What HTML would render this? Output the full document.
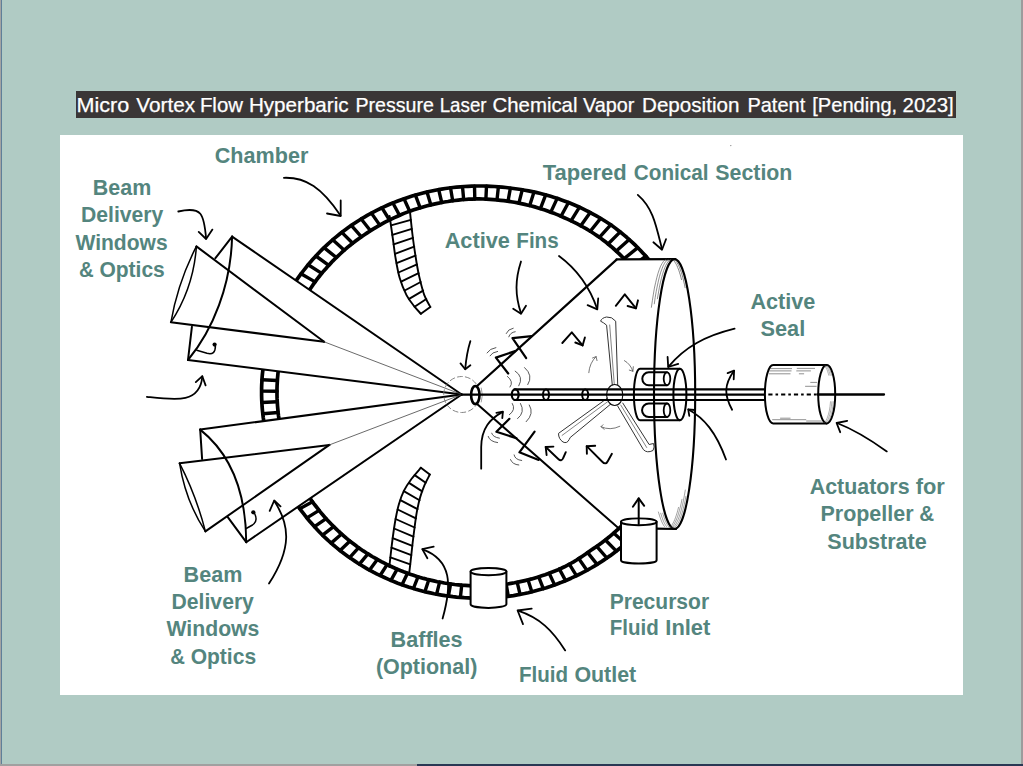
<!DOCTYPE html>
<html><head><meta charset="utf-8"><title>Patent diagram</title>
<style>
html,body{margin:0;padding:0;}
body{width:1023px;height:766px;overflow:hidden;background:#b0cbc4;position:relative;font-family:"Liberation Sans",sans-serif;}
#bl{position:absolute;left:0;top:0;width:1px;height:764px;background:#a3a3a3;}
#bl2{position:absolute;left:1px;top:0;width:1px;height:764px;background:#5f7f99;}
#br{position:absolute;left:1020.5px;top:0;width:2.5px;height:764px;background:#9c9c9c;}
#bb1{position:absolute;left:0;top:763.5px;width:417px;height:2.5px;background:#a0a0a0;}
#bb2{position:absolute;left:417px;top:763.5px;width:606px;height:2.5px;background:#2a3854;}
#title{position:absolute;left:75.5px;top:91px;width:880px;height:27px;background:#3a3636;}
#box{position:absolute;left:59.6px;top:134.8px;width:903.2px;height:560.1px;background:#fff;}
svg{position:absolute;left:0;top:0;}
</style></head><body>
<div id="bl"></div><div id="bl2"></div><div id="br"></div><div id="bb1"></div><div id="bb2"></div>
<div id="title"></div><div id="box"></div>
<svg width="1023" height="766" viewBox="0 0 1023 766" stroke-linecap="round" stroke-linejoin="round">
<g font-family="Liberation Sans, sans-serif" font-size="20.2" fill="#fff" stroke="#fff" stroke-width="0.25"><text x="76.4" y="112.4" textLength="52.8" lengthAdjust="spacingAndGlyphs">Micro</text><text x="136.3" y="112.4" textLength="58.9" lengthAdjust="spacingAndGlyphs">Vortex</text><text x="199.9" y="112.4" textLength="43.1" lengthAdjust="spacingAndGlyphs">Flow</text><text x="248.9" y="112.4" textLength="99.7" lengthAdjust="spacingAndGlyphs">Hyperbaric</text><text x="355.4" y="112.4" textLength="78.5" lengthAdjust="spacingAndGlyphs">Pressure</text><text x="439.7" y="112.4" textLength="46.9" lengthAdjust="spacingAndGlyphs">Laser</text><text x="492.5" y="112.4" textLength="85.0" lengthAdjust="spacingAndGlyphs">Chemical</text><text x="583.0" y="112.4" textLength="51.4" lengthAdjust="spacingAndGlyphs">Vapor</text><text x="642.0" y="112.4" textLength="97.4" lengthAdjust="spacingAndGlyphs">Deposition</text><text x="747.4" y="112.4" textLength="57.8" lengthAdjust="spacingAndGlyphs">Patent</text><text x="812.1999999999999" y="112.4" textLength="85.0" lengthAdjust="spacingAndGlyphs">[Pending,</text><text x="902.6" y="112.4" textLength="51.1" lengthAdjust="spacingAndGlyphs">2023]</text></g>
<clipPath id="rc"><path d="M200,214.5 L461.7,394.5 L461.7,259.0 L720,259.0 L720,100 L200,100 Z M240,366.6 L300,374.1 L300,416.2 L240,424.3 Z M240,546.4 L461.7,394.5 L621,394.5 L621,700 L240,700 Z"/></clipPath>
<g clip-path="url(#rc)"><path d="M261.6,392.1 L261.6,388.5 L261.7,384.9 L261.9,381.3 L262.1,377.7 L262.4,374.1 L262.8,370.6 L263.2,367.0 L263.7,363.4 L264.3,359.9 L264.9,356.3 L265.6,352.8 L266.4,349.2 L267.2,345.7 L268.1,342.2 L269.0,338.8 L270.0,335.3 L271.1,331.8 L272.3,328.4 L273.5,325.0 L274.7,321.6 L276.1,318.2 L277.5,314.9 L278.9,311.6 L280.4,308.3 L282.0,305.0 L283.6,301.8 L285.3,298.5 L287.1,295.3 L288.9,292.2 L290.8,289.1 L292.7,286.0 L294.7,282.9 L296.7,279.8 L298.8,276.9 L301.0,273.9 L303.2,271.0 L305.5,268.1 L307.8,265.2 L310.1,262.4 L312.6,259.6 L315.0,256.9 L317.5,254.2 L320.1,251.5 L322.7,248.9 L325.4,246.4 L328.1,243.8 L330.9,241.4 L333.7,238.9 L336.5,236.6 L339.4,234.2 L342.3,231.9 L345.3,229.7 L348.3,227.5 L351.4,225.4 L354.5,223.3 L357.6,221.2 L360.8,219.2 L364.0,217.3 L367.2,215.4 L370.5,213.6 L373.8,211.8 L377.1,210.1 L380.5,208.5 L383.9,206.9 L387.4,205.3 L390.8,203.8 L394.3,202.4 L397.8,201.0 L401.3,199.7 L404.9,198.4 L408.5,197.2 L412.1,196.1 L415.7,195.0 L419.4,194.0 L423.0,193.0 L426.7,192.1 L430.4,191.3 L434.1,190.5 L437.8,189.8 L441.6,189.1 L445.3,188.5 L449.1,188.0 L452.9,187.5 L456.6,187.1 L460.4,186.8 L464.2,186.5 L468.0,186.3 L471.8,186.1 L475.6,186.0 L479.4,186.0 L483.2,186.0 L487.0,186.1 L490.8,186.3 L494.6,186.5 L498.4,186.8 L502.2,187.1 L505.9,187.5 L509.7,188.0 L513.5,188.5 L517.3,189.0 L521.0,189.5 L524.8,190.2 L528.5,190.9 L532.2,191.6 L535.9,192.4 L539.6,193.3 L543.3,194.2 L547.0,195.3 L550.6,196.3 L554.3,197.4 L557.9,198.6 L561.5,199.9 L565.0,201.2 L568.6,202.5 L572.1,204.0 L575.6,205.5 L579.1,207.0 L582.5,208.6 L585.9,210.3 L589.3,212.0 L592.6,213.8 L595.9,215.6 L599.2,217.5 L602.5,219.5 L605.7,221.5 L608.8,223.5 L612.0,225.6 L615.0,227.9 L618.0,230.2 L620.9,232.5 L623.8,234.9 L626.7,237.3 L629.5,239.8 L632.3,242.3 L635.0,244.9 L637.6,247.5 L640.3,250.2 L642.8,252.9 L645.3,255.6 L647.8,258.4 L650.2,261.2 L652.6,264.0 L655.0,266.9 L657.3,269.8 L659.5,272.8 L661.7,275.8 L663.8,278.8 L665.8,281.9 L667.8,285.0 L669.8,288.1 L671.6,291.3 L673.4,294.5 L675.1,297.7 L676.8,301.0 L678.4,304.3 L680.0,307.6 L681.5,310.9 L682.9,314.3 L684.3,317.7 L685.6,321.1 L686.8,324.5 L688.0,328.0 L689.1,331.4 L690.1,334.9 L691.1,338.4 L692.0,341.9 L692.9,345.5 L693.6,349.0 L694.4,352.6 L695.0,356.1 L695.6,359.7 L696.1,363.3 L696.6,366.9 L697.0,370.5 L697.3,374.1 L697.6,377.7 L697.7,381.3 L697.9,384.9 L697.9,388.5 L697.9,392.1 L697.8,395.7 L697.7,399.3 L697.5,402.9 L697.2,406.5 L696.9,410.1 L696.5,413.7 L696.0,417.3 L695.4,420.8 L694.8,424.4 L694.2,427.9 L693.4,431.5 L692.6,435.0 L691.8,438.5 L690.8,442.0 L689.8,445.5 L688.8,448.9 L687.7,452.4 L686.5,455.8 L685.2,459.2 L683.9,462.5 L682.6,465.9 L681.1,469.2 L679.6,472.5 L678.1,475.8 L676.5,479.1 L674.8,482.3 L673.1,485.5 L671.3,488.6 L669.4,491.8 L667.5,494.9 L665.6,497.9 L663.5,501.0 L661.5,504.0 L659.3,506.9 L657.2,509.9 L654.9,512.8 L652.6,515.6 L650.3,518.4 L647.9,521.2 L645.5,524.0 L643.0,526.7 L640.5,529.4 L637.9,532.0 L635.3,534.6 L632.7,537.1 L630.0,539.7 L627.2,542.1 L624.4,544.5 L621.6,546.9 L618.7,549.2 L615.8,551.5 L612.9,553.7 L609.9,555.9 L606.8,558.0 L603.7,560.1 L600.6,562.2 L597.5,564.1 L594.3,566.1 L591.1,568.0 L587.8,569.8 L584.5,571.6 L581.2,573.3 L577.9,575.0 L574.5,576.6 L571.1,578.2 L567.7,579.7 L564.2,581.2 L560.7,582.6 L557.2,583.9 L553.7,585.2 L550.1,586.5 L546.5,587.7 L542.9,588.8 L539.3,589.8 L535.7,590.8 L532.0,591.8 L528.3,592.7 L524.6,593.5 L520.9,594.2 L517.2,594.9 L513.5,595.6 L509.7,596.2 L505.9,596.7 L502.2,597.1 L498.4,597.4 L494.6,597.7 L490.8,597.9 L487.0,598.1 L483.2,598.2 L479.4,598.2 L475.6,598.2 L471.8,598.1 L468.0,597.9 L464.2,597.7 L460.4,597.4 L456.6,597.1 L452.9,596.7 L449.1,596.2 L445.3,595.7 L441.6,595.1 L437.8,594.4 L434.1,593.7 L430.4,592.9 L426.7,592.1 L423.0,591.2 L419.4,590.2 L415.7,589.2 L412.1,588.1 L408.5,587.0 L404.9,585.8 L401.3,584.5 L397.8,583.2 L394.3,581.8 L390.8,580.4 L387.4,578.9 L383.9,577.3 L380.5,575.7 L377.1,574.1 L373.8,572.4 L370.5,570.6 L367.2,568.8 L364.0,566.9 L360.8,565.0 L357.6,563.0 L354.5,560.9 L351.4,558.8 L348.3,556.7 L345.3,554.5 L342.3,552.3 L339.4,550.0 L336.5,547.6 L333.7,545.3 L330.9,542.8 L328.1,540.4 L325.4,537.8 L322.7,535.3 L320.1,532.7 L317.5,530.0 L315.0,527.3 L312.6,524.6 L310.1,521.8 L307.8,519.0 L305.5,516.1 L303.2,513.2 L301.0,510.3 L298.8,507.3 L296.7,504.4 L294.7,501.3 L292.7,498.2 L290.8,495.1 L288.9,492.0 L287.1,488.9 L285.3,485.7 L283.6,482.4 L282.0,479.2 L280.4,475.9 L278.9,472.6 L277.5,469.3 L276.1,466.0 L274.7,462.6 L273.5,459.2 L272.3,455.8 L271.1,452.4 L270.0,448.9 L269.0,445.4 L268.1,442.0 L267.2,438.5 L266.4,435.0 L265.6,431.4 L264.9,427.9 L264.3,424.3 L263.7,420.8 L263.2,417.2 L262.8,413.6 L262.4,410.1 L262.1,406.5 L261.9,402.9 L261.7,399.3 L261.6,395.7 L261.6,392.1Z" fill="none" stroke="#000" stroke-width="3.7"/><path d="M277.0,392.1 L277.0,388.7 L277.1,385.3 L277.3,382.0 L277.5,378.6 L277.8,375.2 L278.1,371.8 L278.5,368.5 L279.0,365.1 L279.5,361.8 L280.1,358.4 L280.7,355.1 L281.4,351.8 L282.2,348.5 L283.0,345.2 L283.9,341.9 L284.9,338.7 L286.0,335.5 L287.2,332.3 L288.4,329.1 L289.7,326.0 L291.0,322.9 L292.4,319.8 L293.8,316.7 L295.3,313.6 L296.9,310.6 L298.5,307.6 L300.1,304.6 L301.8,301.7 L303.6,298.8 L305.4,295.9 L307.3,293.1 L309.2,290.3 L311.2,287.5 L313.1,284.7 L315.1,281.9 L317.1,279.2 L319.2,276.5 L321.3,273.9 L323.5,271.2 L325.8,268.7 L328.0,266.1 L330.4,263.6 L332.7,261.1 L335.1,258.7 L337.6,256.3 L340.1,254.0 L342.6,251.7 L345.2,249.4 L347.8,247.2 L350.5,245.0 L353.2,242.9 L355.9,240.8 L358.7,238.7 L361.5,236.7 L364.4,234.8 L367.2,232.9 L370.1,231.0 L373.0,229.1 L376.0,227.3 L379.0,225.6 L382.0,223.9 L385.1,222.2 L388.2,220.6 L391.3,219.1 L394.4,217.6 L397.6,216.2 L400.8,214.8 L404.0,213.4 L407.3,212.1 L410.5,210.9 L413.8,209.8 L417.2,208.7 L420.5,207.7 L423.9,206.7 L427.3,205.8 L430.7,204.9 L434.1,204.1 L437.5,203.4 L440.9,202.7 L444.4,202.0 L447.9,201.5 L451.3,200.9 L454.8,200.5 L458.3,200.1 L461.8,199.7 L465.3,199.5 L468.8,199.2 L472.4,199.1 L475.9,198.9 L479.4,198.9 L482.9,199.0 L486.4,199.1 L490.0,199.3 L493.5,199.6 L497.0,199.9 L500.5,200.3 L503.9,200.7 L507.4,201.2 L510.9,201.7 L514.4,202.3 L517.8,202.9 L521.2,203.6 L524.7,204.4 L528.1,205.2 L531.5,206.0 L534.8,206.9 L538.2,207.9 L541.5,209.0 L544.9,210.0 L548.2,211.2 L551.4,212.4 L554.7,213.6 L557.9,214.9 L561.1,216.3 L564.3,217.7 L567.5,219.1 L570.7,220.6 L573.8,222.1 L576.9,223.7 L580.0,225.3 L583.0,227.0 L586.0,228.7 L589.0,230.5 L591.9,232.3 L594.9,234.2 L597.7,236.1 L600.6,238.1 L603.3,240.2 L606.1,242.3 L608.7,244.5 L611.4,246.7 L614.0,249.0 L616.5,251.3 L619.0,253.7 L621.5,256.1 L623.9,258.5 L626.3,261.0 L628.6,263.5 L630.9,266.0 L633.1,268.6 L635.4,271.2 L637.5,273.8 L639.7,276.5 L641.7,279.2 L643.8,281.9 L645.8,284.7 L647.7,287.4 L649.6,290.3 L651.4,293.1 L653.2,296.0 L654.9,298.9 L656.6,301.9 L658.2,304.9 L659.7,307.9 L661.2,310.9 L662.6,314.0 L664.0,317.1 L665.3,320.2 L666.6,323.3 L667.8,326.4 L669.0,329.6 L670.1,332.8 L671.1,336.0 L672.1,339.2 L673.0,342.4 L673.8,345.7 L674.6,348.9 L675.4,352.2 L676.1,355.5 L676.7,358.8 L677.2,362.1 L677.7,365.4 L678.2,368.7 L678.6,372.1 L678.9,375.4 L679.1,378.7 L679.3,382.1 L679.5,385.4 L679.5,388.8 L679.5,392.1 L679.5,395.4 L679.4,398.8 L679.2,402.1 L679.0,405.5 L678.7,408.8 L678.3,412.1 L677.9,415.4 L677.4,418.8 L676.9,422.1 L676.3,425.3 L675.7,428.6 L674.9,431.9 L674.2,435.2 L673.3,438.4 L672.4,441.6 L671.5,444.8 L670.5,448.0 L669.4,451.2 L668.3,454.4 L667.1,457.5 L665.9,460.6 L664.6,463.7 L663.2,466.8 L661.8,469.9 L660.4,472.9 L658.8,475.9 L657.3,478.9 L655.6,481.8 L654.0,484.7 L652.2,487.6 L650.4,490.5 L648.6,493.3 L646.7,496.1 L644.8,498.9 L642.8,501.6 L640.7,504.3 L638.7,507.0 L636.5,509.6 L634.3,512.2 L632.1,514.8 L629.8,517.3 L627.5,519.8 L625.2,522.3 L622.8,524.7 L620.4,527.1 L617.9,529.4 L615.3,531.7 L612.8,533.9 L610.2,536.1 L607.5,538.3 L604.8,540.4 L602.1,542.5 L599.4,544.5 L596.6,546.5 L593.7,548.4 L590.9,550.3 L588.1,552.3 L585.3,554.3 L582.4,556.2 L579.5,558.1 L576.6,560.0 L573.6,561.8 L570.6,563.5 L567.6,565.2 L564.5,566.8 L561.3,568.3 L558.1,569.7 L554.9,571.0 L551.6,572.3 L548.4,573.5 L545.1,574.7 L541.7,575.8 L538.4,576.9 L535.0,577.9 L531.7,578.9 L528.3,579.8 L524.9,580.6 L521.4,581.4 L518.0,582.1 L514.5,582.8 L511.0,583.4 L507.6,584.0 L504.1,584.5 L500.6,584.8 L497.0,585.2 L493.5,585.4 L490.0,585.6 L486.5,585.8 L482.9,585.9 L479.4,585.9 L475.9,585.9 L472.3,585.8 L468.8,585.6 L465.3,585.4 L461.8,585.2 L458.2,584.8 L454.7,584.5 L451.2,584.0 L447.7,583.5 L444.3,583.0 L440.8,582.3 L437.3,581.7 L433.9,580.9 L430.4,580.1 L427.0,579.3 L423.6,578.4 L420.2,577.4 L416.9,576.4 L413.5,575.3 L410.2,574.2 L406.9,573.0 L403.6,571.8 L400.3,570.5 L397.1,569.1 L393.9,567.7 L390.7,566.3 L387.5,564.8 L384.4,563.2 L381.3,561.6 L378.2,559.9 L375.2,558.2 L372.1,556.5 L369.2,554.6 L366.2,552.8 L363.3,550.9 L360.4,548.9 L357.6,546.9 L354.8,544.8 L352.0,542.7 L349.3,540.6 L346.6,538.4 L344.0,536.1 L341.4,533.8 L338.8,531.5 L336.3,529.1 L333.8,526.7 L331.4,524.3 L329.0,521.8 L326.6,519.2 L324.4,516.7 L322.1,514.1 L319.9,511.4 L317.8,508.7 L315.7,506.0 L313.6,503.3 L311.6,500.5 L309.7,497.7 L307.8,494.8 L305.9,491.9 L304.1,489.0 L302.4,486.1 L300.7,483.1 L299.1,480.1 L297.5,477.1 L296.0,474.0 L294.5,470.9 L293.1,467.8 L291.7,464.7 L290.4,461.6 L289.2,458.4 L288.0,455.2 L286.9,452.0 L285.8,448.8 L284.8,445.5 L283.9,442.3 L283.0,439.0 L282.2,435.7 L281.4,432.4 L280.7,429.1 L280.1,425.8 L279.5,422.4 L279.0,419.1 L278.5,415.7 L278.1,412.4 L277.8,409.0 L277.5,405.6 L277.3,402.2 L277.1,398.9 L277.0,395.5 L277.0,392.1Z" fill="none" stroke="#000" stroke-width="3.7"/><path d="M474.8,199.0L474.5,186.1M485.9,199.1L486.5,186.1M497.0,199.9L498.4,186.8M508.0,201.3L510.4,188.1M518.9,203.1L522.3,189.7M529.7,205.6L534.0,192.0M540.4,208.6L545.7,194.9M550.8,212.1L557.2,198.4M561.0,216.3L568.5,202.5M571.0,220.8L579.5,207.2M580.8,225.8L590.2,212.5M590.3,231.3L600.6,218.4M599.4,237.3L610.7,224.8M608.1,244.0L620.2,231.9M616.3,251.1L629.2,239.6M624.1,258.7L637.8,247.7M631.4,266.6L645.9,256.2M638.4,274.8L653.5,265.1M644.9,283.4L660.7,274.4M650.9,292.3L667.2,284.0M656.3,301.5L673.2,294.0M661.2,311.0L678.5,304.3M665.6,320.7L683.1,314.9M669.3,330.7L687.2,325.7M672.5,340.8L690.6,336.6M675.1,351.1L693.4,347.8M677.1,361.5L695.5,359.0M678.5,371.9L697.0,370.3M679.3,382.5L697.8,381.7M679.5,393.0L697.9,393.1M679.1,403.6L697.4,404.5M678.1,414.1L696.2,415.8M676.5,424.5L694.3,427.1M674.2,434.9L691.9,438.2M671.4,445.1L688.7,449.2M668.0,455.1L684.9,459.9M664.1,464.9L680.6,470.5M659.5,474.5L675.6,480.8M654.5,483.9L670.0,490.8M648.9,492.9L663.8,500.6M642.7,501.7L657.1,509.9M636.1,510.1L649.9,518.9M629.1,518.2L642.2,527.6M621.6,525.9L634.0,535.8M613.7,533.1L625.4,543.7M605.4,540.0L616.4,551.1M596.7,546.4L606.9,558.0M587.7,552.6L597.1,564.4M578.7,558.6L586.9,570.3M569.3,564.2L576.4,575.7M559.4,569.1L565.6,580.6M549.2,573.2L554.6,584.9M538.7,576.8L543.3,588.7M528.0,579.8L531.8,591.8M517.2,582.3L520.1,594.4M506.2,584.2L508.3,596.4M495.1,585.3L496.3,597.6M484.0,585.9L484.3,598.1M472.8,585.8L472.3,598.1M461.7,585.2L460.4,597.4M450.6,583.9L448.4,596.1M439.6,582.1L436.6,594.2M428.8,579.7L424.9,591.6M418.0,576.8L413.4,588.5M407.5,573.3L402.0,584.8M397.2,569.2L390.9,580.4M387.1,564.6L380.1,575.5M377.3,559.5L369.6,570.1M367.9,553.8L359.4,564.1M358.7,547.7L349.6,557.6M350.0,541.1L340.1,550.6M341.6,534.0L331.1,543.1M333.6,526.6L322.5,535.1M326.1,518.7L314.5,526.7M319.1,510.4L306.9,517.9M312.5,501.8L299.8,508.7M306.5,492.8L293.3,499.2M300.9,483.5L287.3,489.3M295.9,474.0L282.0,479.2M291.5,464.2L277.2,468.7M287.6,454.1L273.1,458.1M284.4,443.9L269.5,447.2M281.7,433.6L266.6,436.2M279.6,423.1L264.4,425.0M278.1,412.5L262.8,413.8M277.3,401.8L261.9,402.5M277.0,391.2L261.6,391.1M277.4,380.5L262.0,379.7M278.3,369.8L263.0,368.4M279.9,359.3L264.7,357.2M282.1,348.8L267.1,346.1M285.0,338.5L270.1,335.1M288.7,328.4L273.7,324.2M292.9,318.6L278.0,313.6M297.7,309.0L282.9,303.2M303.1,299.7L288.4,293.1M308.9,290.7L294.4,283.3M315.1,281.9L301.0,273.8M321.7,273.4L308.2,264.7M328.8,265.3L315.9,256.0M336.3,257.5L324.0,247.7M344.3,250.2L332.7,239.8M352.7,243.3L341.8,232.4M361.4,236.8L351.3,225.4M370.5,230.7L361.2,219.0M379.8,225.1L371.4,213.1M389.5,220.0L382.0,207.8M399.5,215.3L392.9,203.0M409.7,211.2L404.0,198.7M420.2,207.8L415.4,195.1M430.9,204.9L427.0,192.1M441.7,202.5L438.7,189.6M452.7,200.8L450.5,187.8M463.7,199.6L462.5,186.6" stroke="#000" stroke-width="3.4" fill="none"/></g>
<path d="M389.6,216.0 C390.2,219.8 391.9,232.1 392.9,239.0 C393.9,245.9 394.4,251.2 395.5,257.7 C396.6,264.2 397.9,271.9 399.7,278.1 C401.5,284.3 404.1,290.4 406.5,295.1 C408.9,299.8 411.7,303.0 414.1,306.1 C416.5,309.2 419.8,312.5 420.9,313.8" stroke="#000" stroke-width="1.9" fill="none" />
<path d="M409.9,211.0 C410.3,214.8 411.5,226.5 412.4,234.0 C413.3,241.5 414.4,248.9 415.5,256.0 C416.6,263.1 417.7,269.9 419.2,276.4 C420.7,282.9 422.4,290.0 424.3,295.1 C426.2,300.2 429.3,305.0 430.3,307.0" stroke="#000" stroke-width="1.9" fill="none" />
<path d="M391.0,225.4L410.9,219.9M392.3,234.9L411.8,228.9M393.6,244.3L412.9,237.8M395.0,253.8L414.2,246.7M396.6,263.2L415.4,255.6M398.5,272.5L417.0,264.4M401.1,281.6L418.6,273.2M404.7,290.5L420.7,282.0M409.1,298.9L423.1,290.6M414.6,306.7L426.3,299.0M420.9,313.8L430.3,307.0" stroke="#000" stroke-width="1.9" fill="none" />
<path d="M389.3,567.0 C389.6,564.2 390.6,555.2 391.2,550.1 C391.8,545.0 392.2,541.6 392.9,536.5 C393.6,531.4 394.5,524.9 395.5,519.5 C396.5,514.1 397.5,509.0 398.9,504.2 C400.3,499.4 401.9,494.9 404.0,490.7 C406.1,486.5 408.8,482.6 411.6,478.8 C414.4,475.0 419.3,469.6 420.9,467.7" stroke="#000" stroke-width="1.9" fill="none" />
<path d="M409.2,573.5 C409.4,571.3 410.2,565.0 410.7,560.3 C411.2,555.5 411.8,550.4 412.4,545.0 C413.0,539.6 413.8,533.4 414.5,528.0 C415.2,522.6 415.8,517.8 416.7,512.7 C417.6,507.6 418.8,501.9 420.1,497.4 C421.4,492.9 422.7,489.4 424.3,485.6 C425.9,481.8 428.9,476.4 429.8,474.5" stroke="#000" stroke-width="1.9" fill="none" />
<path d="M390.4,557.4L410.2,564.3M391.5,547.7L411.3,555.1M392.7,538.1L412.3,545.9M394.1,528.5L413.4,536.7M395.6,519.0L414.6,527.5M397.7,509.5L415.9,518.4M400.4,500.2L417.5,509.2M403.8,491.1L419.5,500.2M409.0,482.9L422.2,491.4M414.7,475.1L425.7,482.8M420.9,467.7L429.8,474.5" stroke="#000" stroke-width="1.9" fill="none" />
<line x1="232.1" y1="236.6" x2="461.7" y2="394.5" stroke="#000" stroke-width="2.0" />
<line x1="188" y1="360" x2="461.7" y2="394.5" stroke="#000" stroke-width="2.0" />
<path d="M232.1,236.6 C231,285 213,330 188,360" stroke="#000" stroke-width="2.0" fill="none" />
<line x1="232.1" y1="236.6" x2="215.4" y2="258.2" stroke="#000" stroke-width="2.0" />
<line x1="191.9" y1="326.8" x2="188" y2="360" stroke="#000" stroke-width="2.0" />
<line x1="196.4" y1="246.4" x2="324.1" y2="341.8" stroke="#000" stroke-width="2.0" />
<line x1="170.9" y1="322.3" x2="324.1" y2="341.8" stroke="#000" stroke-width="2.0" />
<path d="M196.4,246.4 Q177.8,282.5 170.9,322.3" stroke="#000" stroke-width="1.5" fill="none" />
<path d="M196.4,246.4 Q193.5,288 170.9,322.3" stroke="#000" stroke-width="1.5" fill="none" />
<path d="M196.8,350.3 L207,353.3 Q215.5,355.5 215.4,346" stroke="#000" stroke-width="1.5" fill="none" />
<circle cx="214.6" cy="344.6" r="2.1" fill="#000"/>
<line x1="200.2" y1="429.6" x2="461.7" y2="394.5" stroke="#000" stroke-width="2.0" />
<line x1="246.2" y1="542.2" x2="461.7" y2="394.5" stroke="#000" stroke-width="2.0" />
<path d="M200.2,429.6 C232,455 246,495 246.2,542.2" stroke="#000" stroke-width="2.0" fill="none" />
<line x1="200.2" y1="429.6" x2="202.1" y2="459" stroke="#000" stroke-width="2.0" />
<line x1="227.6" y1="516.8" x2="246.2" y2="542.2" stroke="#000" stroke-width="2.0" />
<line x1="179.6" y1="463.3" x2="329.4" y2="444.9" stroke="#000" stroke-width="2.0" />
<line x1="205.4" y1="531.4" x2="329.4" y2="444.9" stroke="#000" stroke-width="2.0" />
<path d="M179.6,463.3 Q185.5,501 205.4,531.4" stroke="#000" stroke-width="1.5" fill="none" />
<path d="M179.6,463.3 Q196,495 205.4,531.4" stroke="#000" stroke-width="1.5" fill="none" />
<path d="M246.2,528.5 L252.5,525 Q258.5,521 254.4,513" stroke="#000" stroke-width="1.5" fill="none" />
<circle cx="253.3" cy="512.3" r="2.1" fill="#000"/>
<line x1="324.1" y1="341.8" x2="461.7" y2="394.5" stroke="#444" stroke-width="0.8" />
<line x1="329.4" y1="444.9" x2="461.7" y2="394.5" stroke="#444" stroke-width="0.8" />
<circle cx="461.7" cy="394.5" r="18" fill="none" stroke="#777" stroke-width="0.9" stroke-dasharray="5 3"/>
<ellipse cx="475.3" cy="395" rx="4.2" ry="9" fill="none" stroke="#000" stroke-width="2.6"/>
<path d="M481.3,388 Q483.5,395 481.3,402" stroke="#777" stroke-width="0.7" fill="none" />
<line x1="476.5" y1="386.5" x2="616.6" y2="259.6" stroke="#000" stroke-width="2.2" />
<line x1="476.5" y1="403.5" x2="619.5" y2="529.1" stroke="#000" stroke-width="2.0" />
<line x1="616.6" y1="259.4" x2="675.4" y2="259.2" stroke="#000" stroke-width="2.2" />
<line x1="656" y1="528.7" x2="676" y2="529" stroke="#000" stroke-width="2.2" />
<ellipse cx="674.6" cy="394.05" rx="20.6" ry="134.9" fill="none" stroke="#000" stroke-width="2.1"/>
<path d="M670.9,259.3 L669.7,260.0 L668.4,261.2 L667.2,262.9 L666.0,265.0 L664.8,267.7 L663.6,270.8 L662.5,274.4 L661.4,278.4 L660.3,282.9 L659.3,287.7 L658.4,293.0 L657.4,298.7" stroke="#444" stroke-width="0.6" fill="none" />
<path d="M668.5,259.3 L667.2,260.1 L665.8,261.4 L664.5,263.3 L663.2,265.8 L662.0,268.8 L660.7,272.3 L659.5,276.4 L658.4,280.9 L657.3,286.0 L656.2,291.5 L655.2,297.4 L654.3,303.8" stroke="#444" stroke-width="0.6" fill="none" />
<path d="M666.1,259.3 L664.7,260.1 L663.3,261.6 L662.0,263.6 L660.6,266.2 L659.3,269.5 L658.0,273.3 L656.8,277.7 L655.6,282.7 L654.4,288.1 L653.4,294.1 L652.4,300.5 L651.4,307.3" stroke="#444" stroke-width="0.6" fill="none" />
<path d="M675.3,260.5 L676.2,261.4 L677.0,262.6 L677.9,264.1 L678.8,265.8 L679.6,267.7 L680.4,269.9 L681.3,272.3 L682.1,274.9 L682.9,277.8 L683.6,280.9 L684.4,284.2 L685.1,287.7" stroke="#555" stroke-width="0.7" fill="none" />
<path d="M673.5,260.5 L674.2,261.2 L674.9,262.1 L675.6,263.2 L676.3,264.4 L677.0,265.8 L677.6,267.3 L678.3,269.0 L679.0,270.8 L679.6,272.8 L680.3,274.9 L680.9,277.2 L681.5,279.6" stroke="#555" stroke-width="0.7" fill="none" />
<path d="M685.9,496.3 L685.1,500.7 L684.2,504.8 L683.3,508.6 L682.4,512.1 L681.4,515.3 L680.4,518.1 L679.4,520.6 L678.4,522.7 L677.3,524.4 L676.3,525.9 L675.2,526.9 L674.1,527.6" stroke="#444" stroke-width="0.5" fill="none" />
<path d="M685.3,490.0 L684.4,495.3 L683.5,500.3 L682.5,504.8 L681.5,509.0 L680.5,512.8 L679.4,516.2 L678.3,519.2 L677.1,521.8 L676.0,523.9 L674.8,525.6 L673.6,526.8 L672.4,527.6" stroke="#444" stroke-width="0.5" fill="none" />
<path d="M682.0,499.3 L681.2,503.3 L680.3,507.0 L679.4,510.4 L678.5,513.6 L677.6,516.4 L676.7,518.9 L675.7,521.2 L674.7,523.1 L673.8,524.7 L672.8,526.0 L671.8,526.9 L670.7,527.6" stroke="#444" stroke-width="0.5" fill="none" />
<path d="M678.5,507.4 L677.8,510.2 L677.1,512.8 L676.3,515.3 L675.5,517.5 L674.8,519.5 L674.0,521.3 L673.2,522.9 L672.4,524.3 L671.5,525.4 L670.7,526.4 L669.9,527.1 L669.0,527.6" stroke="#444" stroke-width="0.5" fill="none" />
<path d="M662.7,513.2 L663.2,514.7 L663.6,516.1 L664.1,517.5 L664.6,518.8 L665.0,520.1 L665.5,521.2 L666.0,522.3 L666.5,523.3 L667.0,524.2 L667.5,525.0 L668.0,525.8 L668.5,526.5" stroke="#444" stroke-width="0.5" fill="none" />
<path d="M660.7,513.2 L661.2,514.7 L661.6,516.1 L662.1,517.5 L662.6,518.8 L663.0,520.1 L663.5,521.2 L664.0,522.3 L664.5,523.3 L665.0,524.2 L665.5,525.0 L666.0,525.8 L666.5,526.5" stroke="#444" stroke-width="0.5" fill="none" />
<path d="M658.4,512.0 L658.9,513.7 L659.4,515.3 L659.9,516.8 L660.4,518.2 L660.9,519.6 L661.4,520.8 L661.9,522.0 L662.4,523.1 L662.9,524.0 L663.4,524.9 L663.9,525.8 L664.5,526.5" stroke="#444" stroke-width="0.5" fill="none" />
<path d="M515.2,351.1 L495.9,357.6 L508.2,373.5" stroke="#000" stroke-width="2.2" fill="none" />
<path d="M531.7,336.1 L512.5,338.2 L526.2,358.2" stroke="#000" stroke-width="2.2" fill="none" />
<path d="M509.4,418.8 L496.4,431.7 L516.4,438.2" stroke="#000" stroke-width="2.2" fill="none" />
<path d="M534.6,431.7 L519.4,452.3 L538.7,459.9" stroke="#000" stroke-width="2.2" fill="none" />
<path d="M487,352.9 Q489.8,348.5 495.9,347.6" stroke="#444" stroke-width="0.9" fill="none" />
<path d="M490,355.8 Q492.0,352.2 497.6,351.4" stroke="#444" stroke-width="0.9" fill="none" />
<path d="M506.2,333.5 Q507.9,329.1 513.2,328.2" stroke="#444" stroke-width="0.9" fill="none" />
<path d="M508.8,336.8 Q510.2,332.4 515.2,331.7" stroke="#444" stroke-width="0.9" fill="none" />
<path d="M507.4,376.4 Q514.1,381.7 510,387" stroke="#444" stroke-width="0.9" fill="none" />
<path d="M515.2,371.1 Q524.0,376.8 518.8,385.8" stroke="#444" stroke-width="0.9" fill="none" />
<path d="M524.6,367.6 Q533.6,375.5 527.8,384.6" stroke="#444" stroke-width="0.9" fill="none" />
<path d="M512.3,403.5 Q516.2,409.7 509.4,414.7" stroke="#444" stroke-width="0.9" fill="none" />
<path d="M520.5,403.5 Q525.5,412.3 517.6,418.6" stroke="#444" stroke-width="0.9" fill="none" />
<path d="M529.3,405 Q534.5,413.6 526.2,421.7" stroke="#444" stroke-width="0.9" fill="none" />
<path d="M488.2,436.4 Q489.5,441.5 497.6,442.6" stroke="#444" stroke-width="0.9" fill="none" />
<path d="M491.7,433.2 Q492.7,437.1 499.4,438.2" stroke="#444" stroke-width="0.9" fill="none" />
<path d="M510.5,459.6 Q512.4,464.5 518.8,465" stroke="#444" stroke-width="0.9" fill="none" />
<path d="M514.1,454.9 Q514.9,459.7 521.7,460.5" stroke="#444" stroke-width="0.9" fill="none" />
<path d="M617.7,385 L615.7,321.2 Q612,316.5 606.5,317 Q601.5,318 600.6,321.2 Q603.5,322.5 606.6,325.2 L612.3,385" stroke="#333" stroke-width="1.0" fill="none" />
<path d="M609.7,325 L614.3,384.5" stroke="#333" stroke-width="0.6" fill="none" />
<path d="M607.6,398 L558.5,433.4 Q558.5,439 563,442 Q567,444 569.2,439.5 L570.2,437.5 L610.7,404.1" stroke="#333" stroke-width="1.0" fill="none" />
<path d="M562.1,435.4 L608.6,401" stroke="#333" stroke-width="0.6" fill="none" />
<path d="M617.7,406.1 L643.4,449.6 Q647,453.5 653,450.5 Q655,447 653.5,443.5 L649.1,444.5 L622.8,403.1" stroke="#333" stroke-width="1.0" fill="none" />
<path d="M620.8,405.1 L646.7,447.5" stroke="#333" stroke-width="0.6" fill="none" />
<ellipse cx="614.7" cy="395" rx="8.1" ry="10.5" fill="none" stroke="#111" stroke-width="1.1"/>
<path d="M588.8,372.7 Q589.5,363 596.1,356.6" stroke="#555" stroke-width="0.8" fill="none" />
<path d="M592.5,358 L596.1,356.6 L597,360.6" stroke="#555" stroke-width="0.8" fill="none" />
<path d="M624.4,360.6 Q630.5,364 632.9,371.3" stroke="#555" stroke-width="0.8" fill="none" />
<path d="M629.3,370.1 L632.9,371.3 L633.3,366.7" stroke="#555" stroke-width="0.8" fill="none" />
<path d="M619.8,426.3 Q610,431 601,426.7" stroke="#555" stroke-width="0.8" fill="none" />
<path d="M603,424.7 L601,426.7 L604.2,429.3" stroke="#555" stroke-width="0.8" fill="none" />
<line x1="461.7" y1="394.7" x2="765" y2="394.7" stroke="#000" stroke-width="2.2" />
<line x1="514.5" y1="389.4" x2="765" y2="389.4" stroke="#000" stroke-width="2.2" />
<line x1="514.5" y1="400" x2="765" y2="400" stroke="#000" stroke-width="2.2" />
<ellipse cx="515.2" cy="394.7" rx="3.4" ry="5.3" fill="none" stroke="#000" stroke-width="2.2"/>
<ellipse cx="546" cy="394.7" rx="3.0" ry="5.3" fill="none" stroke="#000" stroke-width="2.0"/>
<ellipse cx="585.2" cy="394.7" rx="3.0" ry="5.3" fill="none" stroke="#000" stroke-width="2.0"/>
<path d="M679.9,368.8 L640,368.8 A6.1,25.75 0 0 0 640,420.3 L679.9,420.3" stroke="#000" stroke-width="2.0" fill="none" />
<ellipse cx="679.9" cy="394.55" rx="6.5" ry="25.75" fill="none" stroke="#000" stroke-width="2.0"/>
<path d="M667,372.3 L648.8,372.3 A6.5,6.5 0 0 0 648.8,385.3 L667,385.3" stroke="#000" stroke-width="2.0" fill="none" />
<ellipse cx="667" cy="378.8" rx="3.3" ry="6.5" fill="none" stroke="#000" stroke-width="1.8"/>
<path d="M667,403.5 L648.8,403.5 A6.75,6.75 0 0 0 648.8,417.0 L667,417.0" stroke="#000" stroke-width="2.0" fill="none" />
<ellipse cx="667" cy="410.25" rx="3.3" ry="6.75" fill="none" stroke="#000" stroke-width="1.8"/>
<path d="M826.7,364.9 L773.1,364.9 A8.2,29.25 0 0 0 773.1,423.4 L826.7,423.4" stroke="#000" stroke-width="2.0" fill="#fff" />
<ellipse cx="826.7" cy="394.15" rx="8.5" ry="29.25" fill="#fff" stroke="#000" stroke-width="2.0"/>
<line x1="768.3" y1="394.5" x2="817.5" y2="394.5" stroke="#000" stroke-width="2.2" stroke-dasharray="4.2 3 2.6 3" stroke-linecap="butt"/>
<line x1="817.5" y1="394.5" x2="884" y2="394.5" stroke="#000" stroke-width="2.3" />
<line x1="769.8" y1="368.6" x2="792" y2="368.6" stroke="#444" stroke-width="0.6" stroke-linecap="butt"/>
<line x1="769.2" y1="370.9" x2="791.5" y2="370.9" stroke="#444" stroke-width="0.6" stroke-linecap="butt"/>
<line x1="768.8" y1="373.8" x2="790.5" y2="373.8" stroke="#444" stroke-width="0.6" stroke-linecap="butt"/>
<line x1="796.8" y1="368.4" x2="815" y2="368.4" stroke="#444" stroke-width="0.6" stroke-linecap="butt"/>
<line x1="796.3" y1="370.9" x2="810.9" y2="370.9" stroke="#444" stroke-width="0.6" stroke-linecap="butt"/>
<line x1="798.9" y1="373.8" x2="804.1" y2="373.8" stroke="#444" stroke-width="0.6" stroke-linecap="butt"/>
<line x1="810.3" y1="382.4" x2="817.1" y2="382.4" stroke="#444" stroke-width="0.6" stroke-linecap="butt"/>
<line x1="805.1" y1="386.3" x2="816.6" y2="386.3" stroke="#444" stroke-width="0.6" stroke-linecap="butt"/>
<line x1="780.1" y1="418.2" x2="790.5" y2="418.2" stroke="#444" stroke-width="0.6" stroke-linecap="butt"/>
<line x1="772.2" y1="419.7" x2="806.2" y2="419.7" stroke="#444" stroke-width="0.6" stroke-linecap="butt"/>
<line x1="806.2" y1="421" x2="821.8" y2="421" stroke="#444" stroke-width="0.6" stroke-linecap="butt"/>
<path d="M833.3,401.7 L832.8,406.5 L832.1,410.9 L831.1,414.8 L830.0,418.1 L828.7,420.7 L827.3,422.4" stroke="#666" stroke-width="0.5" fill="none" />
<path d="M827.3,365.9 L828.1,366.8 L828.9,368.0 L829.7,369.5 L830.4,371.2 L831.0,373.2 L831.6,375.3" stroke="#666" stroke-width="0.5" fill="none" />
<path d="M831.9,401.7 L831.4,406.5 L830.7,410.9 L829.7,414.8 L828.6,418.1 L827.3,420.7 L825.9,422.4" stroke="#666" stroke-width="0.5" fill="none" />
<path d="M825.9,365.9 L826.7,366.8 L827.5,368.0 L828.3,369.5 L829.0,371.2 L829.6,373.2 L830.2,375.3" stroke="#666" stroke-width="0.5" fill="none" />
<path d="M830.5,401.7 L830.0,406.5 L829.3,410.9 L828.3,414.8 L827.2,418.1 L825.9,420.7 L824.5,422.4" stroke="#666" stroke-width="0.5" fill="none" />
<path d="M824.5,365.9 L825.3,366.8 L826.1,368.0 L826.9,369.5 L827.6,371.2 L828.2,373.2 L828.8,375.3" stroke="#666" stroke-width="0.5" fill="none" />
<path d="M470.6,571.6 L470.6,604.3 A17.899999999999977,3.6 0 0 0 506.4,604.3 L506.4,571.6 Z" stroke="#000" stroke-width="2.0" fill="#fff" />
<ellipse cx="488.5" cy="571.6" rx="17.899999999999977" ry="3.6" fill="#fff" stroke="#000" stroke-width="1.9"/>
<path d="M621,521.8 L621,560.2 A17.80000000000001,3.4 0 0 0 656.6,560.2 L656.6,521.8 Z" stroke="#000" stroke-width="2.0" fill="#fff" />
<ellipse cx="638.8" cy="521.8" rx="17.80000000000001" ry="3.4" fill="#fff" stroke="#000" stroke-width="1.9"/>
<path d="M638.7,524 L638.7,498.6" stroke="#000" stroke-width="2.0" fill="none" />
<path d="M632.9,506.7 L638.7,498.4 L644.2,505.8" stroke="#000" stroke-width="2.0" fill="none" />
<path d="M615.8,305.8 L624.8,294.3 L636,308.3" stroke="#000" stroke-width="1.9" fill="none" />
<path d="M627.6,306 L636,308.3 L638,300.3" stroke="#000" stroke-width="1.9" fill="none" />
<path d="M562.3,343 L571.8,332.3 L582.6,345.4" stroke="#000" stroke-width="1.9" fill="none" />
<path d="M575.3,342.5 L582.6,345.4 L584.9,337.4" stroke="#000" stroke-width="1.9" fill="none" />
<path d="M545.7,447 L558,458.7 Q561.6,462.2 563.2,458 L565.8,452.2" stroke="#000" stroke-width="1.9" fill="none" />
<path d="M546.6,455 L545.7,447 L553.4,446.6" stroke="#000" stroke-width="1.9" fill="none" />
<path d="M586.7,446.2 L602,461.5 Q605.8,465.5 607.9,461 L611.9,453.8" stroke="#000" stroke-width="1.9" fill="none" />
<path d="M586.9,453.8 L586.7,446.2 L595.2,445.7" stroke="#000" stroke-width="1.9" fill="none" />
<path d="M283.9,177.8 C306,177 322,188 340.5,215.5" stroke="#000" stroke-width="1.8" fill="none" />
<path d="M327,213.5 L340.7,216 L340.7,200.4" stroke="#000" stroke-width="1.8" fill="none" />
<path d="M178.3,211.5 C202,206 204,214 206.1,238.5" stroke="#000" stroke-width="1.8" fill="none" />
<path d="M198.7,231.9 L206.1,239 L212.4,229.6" stroke="#000" stroke-width="1.8" fill="none" />
<path d="M146.9,396.8 C175,400 200,404 202.3,376.5" stroke="#000" stroke-width="1.8" fill="none" />
<path d="M195.8,382.1 L202.3,376.2 L205.6,385.4" stroke="#000" stroke-width="1.8" fill="none" />
<path d="M269,583.5 C292,548 290,525 274.3,501" stroke="#000" stroke-width="1.8" fill="none" />
<path d="M269.7,510.9 L274.2,500.5 L280.5,506.4" stroke="#000" stroke-width="1.8" fill="none" />
<path d="M442.6,618.5 C452,585 452,560 422.6,549.3" stroke="#000" stroke-width="1.8" fill="none" />
<path d="M433.7,546.6 L422.3,549.1 L427.4,558.3" stroke="#000" stroke-width="1.8" fill="none" />
<path d="M565.2,650.4 C552,630 540,618 518,610.7" stroke="#000" stroke-width="1.8" fill="none" />
<path d="M531.7,608.6 L517.6,610.5 L523,624.1" stroke="#000" stroke-width="1.8" fill="none" />
<path d="M637.8,194.9 C653,208 656,225 662,249.2" stroke="#000" stroke-width="1.8" fill="none" />
<path d="M653.4,242.3 L662,249.7 L666,239.2" stroke="#000" stroke-width="1.8" fill="none" />
<path d="M521,261.5 C515,280 515,295 521,313.4" stroke="#000" stroke-width="1.8" fill="none" />
<path d="M513.2,308.8 L521,313.8 L526,305.8" stroke="#000" stroke-width="1.8" fill="none" />
<path d="M559,256 C578,270 590,288 597.2,309" stroke="#000" stroke-width="1.8" fill="none" />
<path d="M587.6,305.2 L597.3,309.3 L598.2,298.5" stroke="#000" stroke-width="1.8" fill="none" />
<path d="M470.4,341.1 C467,352 466,360 465.2,369" stroke="#000" stroke-width="1.8" fill="none" />
<path d="M460.5,363.4 L465.2,369.3 L470.4,365.3" stroke="#000" stroke-width="1.8" fill="none" />
<path d="M481.2,468.7 L481.2,447 C481.5,428 490,419 502.6,411.9" stroke="#000" stroke-width="1.8" fill="none" />
<path d="M496.4,412.9 L502.9,411.7 L502.3,418.2" stroke="#000" stroke-width="1.8" fill="none" />
<path d="M734.6,328.7 C705,336 685,347 668.5,366.7" stroke="#000" stroke-width="1.8" fill="none" />
<path d="M667.6,357 L668.2,367 L678.2,363.9" stroke="#000" stroke-width="1.8" fill="none" />
<path d="M726,459.5 C716,432 704,418 688.5,409.5" stroke="#000" stroke-width="1.8" fill="none" />
<path d="M689.3,415.8 L688.2,409.3 L694.6,410" stroke="#000" stroke-width="1.8" fill="none" />
<path d="M732.1,409.7 C724,395 724,385 734,370.8" stroke="#000" stroke-width="1.8" fill="none" />
<path d="M727.6,373.1 L734.1,370.6 L733.7,379.3" stroke="#000" stroke-width="1.8" fill="none" />
<path d="M886.8,451.4 C868,438 855,430 837,423" stroke="#000" stroke-width="1.8" fill="none" />
<path d="M847.2,420.8 L836.6,423 L840.2,432.2" stroke="#000" stroke-width="1.8" fill="none" />
<circle cx="730.8" cy="145.6" r="0.7" fill="#888"/>
<g font-family="Liberation Sans, sans-serif" font-weight="bold" fill="#54857e">
<text x="214.8" y="163.1" font-size="22.0" textLength="93.5" lengthAdjust="spacingAndGlyphs">Chamber</text>
<text x="92.8" y="195.3" font-size="22.0" textLength="58.4" lengthAdjust="spacingAndGlyphs">Beam</text>
<text x="81.0" y="222.4" font-size="22.0" textLength="82.3" lengthAdjust="spacingAndGlyphs">Delivery</text>
<text x="75.5" y="250.2" font-size="22.0" textLength="92.1" lengthAdjust="spacingAndGlyphs">Windows</text>
<text x="79.0" y="277.3" font-size="22.0" textLength="14.7" lengthAdjust="spacingAndGlyphs">&amp;</text>
<text x="99.4" y="277.3" font-size="22.0" textLength="65.4" lengthAdjust="spacingAndGlyphs">Optics</text>
<text x="542.8" y="179.6" font-size="22.0" textLength="83.8" lengthAdjust="spacingAndGlyphs">Tapered</text>
<text x="633.8" y="179.6" font-size="22.0" textLength="74.8" lengthAdjust="spacingAndGlyphs">Conical</text>
<text x="715.3" y="179.6" font-size="22.0" textLength="77.1" lengthAdjust="spacingAndGlyphs">Section</text>
<text x="444.7" y="248.3" font-size="22.0" textLength="65.2" lengthAdjust="spacingAndGlyphs">Active</text>
<text x="516.3" y="248.3" font-size="22.0" textLength="42.4" lengthAdjust="spacingAndGlyphs">Fins</text>
<text x="750.4" y="309.3" font-size="22.0" textLength="64.9" lengthAdjust="spacingAndGlyphs">Active</text>
<text x="760.5" y="336.3" font-size="22.0" textLength="44.7" lengthAdjust="spacingAndGlyphs">Seal</text>
<text x="809.7" y="493.5" font-size="22.0" textLength="99.9" lengthAdjust="spacingAndGlyphs">Actuators</text>
<text x="915.7" y="493.5" font-size="22.0" textLength="29.1" lengthAdjust="spacingAndGlyphs">for</text>
<text x="820.5" y="520.9" font-size="22.0" textLength="93.0" lengthAdjust="spacingAndGlyphs">Propeller</text>
<text x="919.2" y="520.9" font-size="22.0" textLength="14.9" lengthAdjust="spacingAndGlyphs">&amp;</text>
<text x="827.3" y="548.9" font-size="22.0" textLength="99.5" lengthAdjust="spacingAndGlyphs">Substrate</text>
<text x="609.7" y="608.9" font-size="22.0" textLength="99.4" lengthAdjust="spacingAndGlyphs">Precursor</text>
<text x="609.7" y="635.3" font-size="22.0" textLength="49.0" lengthAdjust="spacingAndGlyphs">Fluid</text>
<text x="665.3" y="635.3" font-size="22.0" textLength="45.0" lengthAdjust="spacingAndGlyphs">Inlet</text>
<text x="519.0" y="682.2" font-size="22.0" textLength="49.1" lengthAdjust="spacingAndGlyphs">Fluid</text>
<text x="574.4" y="682.2" font-size="22.0" textLength="61.8" lengthAdjust="spacingAndGlyphs">Outlet</text>
<text x="183.6" y="581.6" font-size="22.0" textLength="58.7" lengthAdjust="spacingAndGlyphs">Beam</text>
<text x="171.6" y="609.0" font-size="22.0" textLength="82.3" lengthAdjust="spacingAndGlyphs">Delivery</text>
<text x="166.5" y="636.4" font-size="22.0" textLength="92.9" lengthAdjust="spacingAndGlyphs">Windows</text>
<text x="170.3" y="663.7" font-size="22.0" textLength="14.7" lengthAdjust="spacingAndGlyphs">&amp;</text>
<text x="190.7" y="663.7" font-size="22.0" textLength="65.4" lengthAdjust="spacingAndGlyphs">Optics</text>
<text x="390.6" y="646.6" font-size="22.0" textLength="72.0" lengthAdjust="spacingAndGlyphs">Baffles</text>
<text x="375.9" y="674.0" font-size="22.0" textLength="101.4" lengthAdjust="spacingAndGlyphs">(Optional)</text>
</g>
</svg>
</body></html>
